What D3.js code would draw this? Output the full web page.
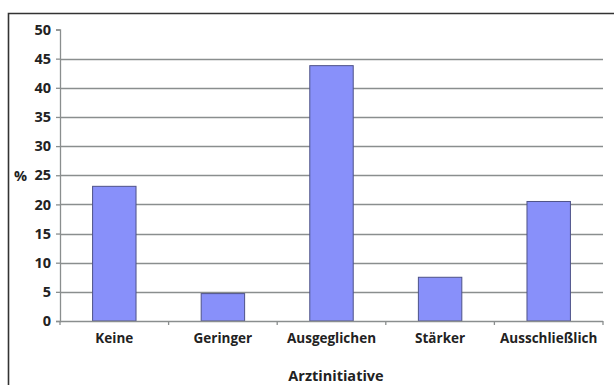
<!DOCTYPE html>
<html>
<head>
<meta charset="utf-8">
<script src="https://cdn.jsdelivr.net/npm/d3@7"></script>
<style>
  html, body { margin: 0; padding: 0; background: #fff; }
  svg { display: block; }
  text { font-family: "Open Sans", sans-serif; font-weight: 700; fill: #222; }
</style>
</head>
<body>
<svg id="chart" width="614" height="385"></svg>
<script>
const categories = ["Keine", "Geringer", "Ausgeglichen", "Stärker", "Ausschließlich"];
const values = [23.1, 4.7, 43.8, 7.5, 20.5];
const yTicks = [0, 5, 10, 15, 20, 25, 30, 35, 40, 45, 50];
const yLabel = "%";
const xTitle = "Arztinitiative";

const svg = d3.select("#chart");
const m = { left: 60, right: 603, top: 29.5, bottom: 321 };

// outer frame (runs off the right and bottom edges)
svg.append("path")
  .attr("d", "M8.5,400 V13.5 H620")
  .attr("fill", "none").attr("stroke", "#333").attr("stroke-width", 1.6);

const x = d3.scaleBand().domain(categories).range([m.left, m.right]).paddingInner(0.6).paddingOuter(0.3);
const xEdge = d3.scaleLinear().domain([0, categories.length]).range([m.left, m.right]);
const y = d3.scaleLinear().domain([0, 50]).range([m.bottom, m.top]);

// horizontal gridlines
svg.append("g").selectAll("line").data(yTicks.filter(d => d > 0 && d < 50)).join("line")
  .attr("x1", m.left).attr("x2", m.right)
  .attr("y1", d => Math.round(y(d)) + 0.5).attr("y2", d => Math.round(y(d)) + 0.5)
  .attr("stroke", "#8a8e8e").attr("stroke-width", 1.3);

// bars
svg.append("g").selectAll("rect").data(values).join("rect")
  .attr("x", (d, i) => x(categories[i]))
  .attr("width", x.bandwidth())
  .attr("y", d => y(d))
  .attr("height", d => y(0) - y(d))
  .attr("fill", "#8890fa").attr("stroke", "#4e5288").attr("stroke-width", 1);

// y axis
const yAxis = svg.append("g").attr("transform", `translate(${m.left},0)`)
  .call(d3.axisLeft(y).tickValues(yTicks).tickSize(4).tickPadding(5));
yAxis.select(".domain").attr("stroke", "#8a8e8e").attr("stroke-width", 1.3);
yAxis.selectAll(".tick line").attr("stroke", "#8a8e8e").attr("stroke-width", 1.3);
yAxis.selectAll(".tick text").attr("font-size", 14.5).attr("fill", "#222")
  .style("font-family", "'Open Sans', sans-serif").style("font-weight", 700);

// x axis line and category boundary ticks
const xAxisG = svg.append("g");
xAxisG.append("line").attr("x1", m.left).attr("x2", m.right)
  .attr("y1", m.bottom + 0.5).attr("y2", m.bottom + 0.5)
  .attr("stroke", "#8a8e8e").attr("stroke-width", 1.3);
xAxisG.selectAll("line.tk").data(d3.range(categories.length + 1)).join("line").attr("class", "tk")
  .attr("x1", d => xEdge(d)).attr("x2", d => xEdge(d))
  .attr("y1", m.bottom).attr("y2", m.bottom + 4)
  .attr("stroke", "#8a8e8e").attr("stroke-width", 1.3);
xAxisG.selectAll("text").data(categories).join("text")
  .attr("x", d => x(d) + x.bandwidth() / 2).attr("y", 343)
  .attr("text-anchor", "middle").attr("font-size", 13.5)
  .text(d => d);

// axis titles
svg.append("text").attr("x", 14).attr("y", 180.5).attr("font-size", 14.5).text(yLabel);
svg.append("text").attr("x", 336).attr("y", 381).attr("text-anchor", "middle")
  .attr("font-size", 14.5).text(xTitle);
</script>
</body>
</html>
